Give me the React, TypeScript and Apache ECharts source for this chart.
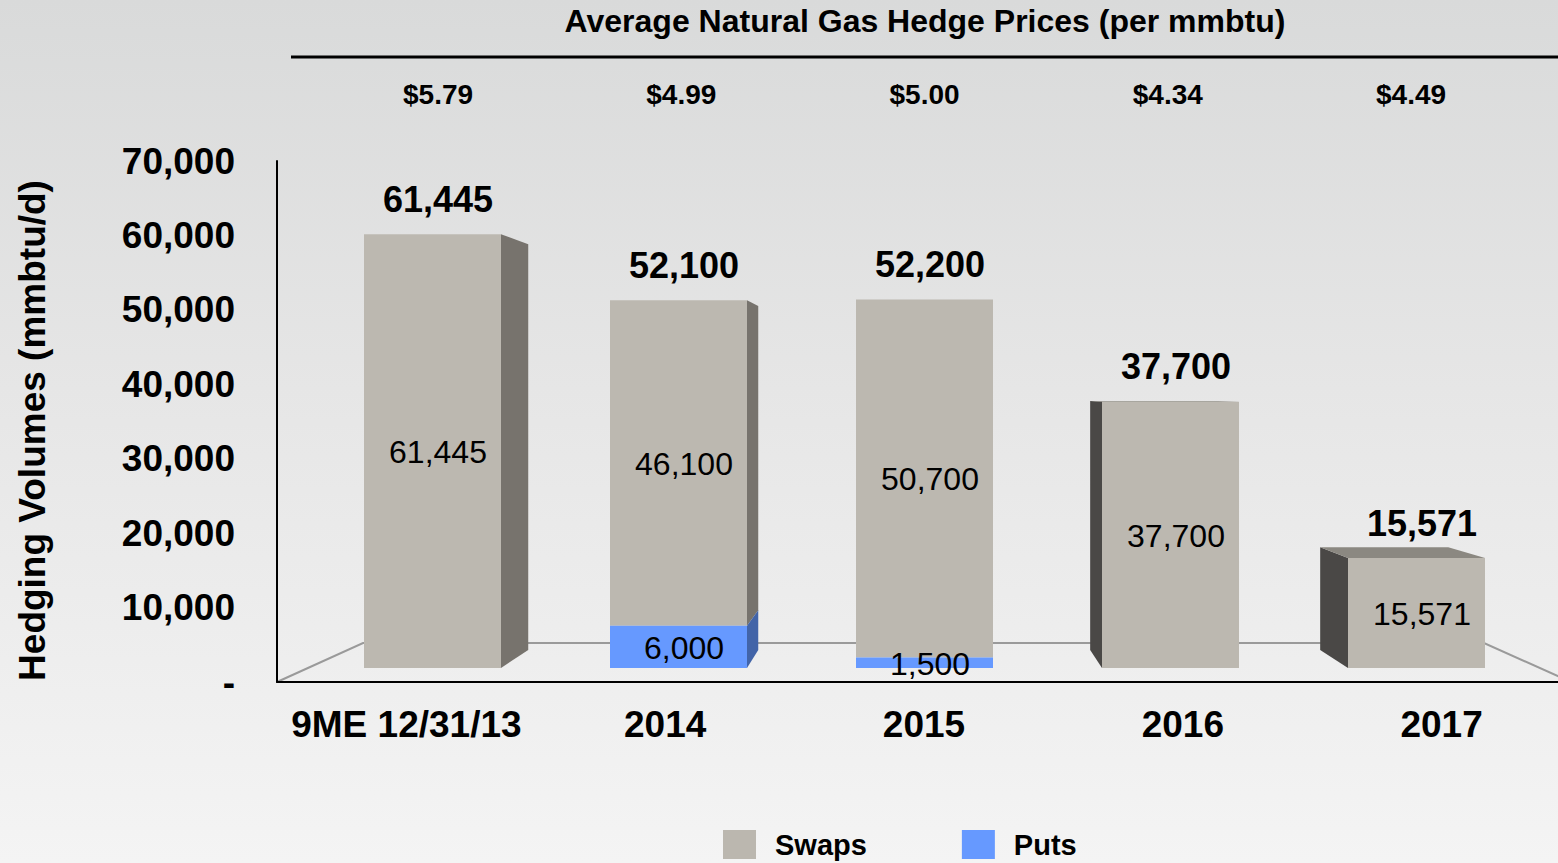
import React, { useEffect, useRef } from "react";
import * as echarts from "echarts";

const categories = ["9ME 12/31/13", "2014", "2015", "2016", "2017"];
const swaps = [61445, 46100, 50700, 37700, 15571];
const puts = [0, 6000, 1500, 0, 0];
const prices = ["$5.79", "$4.99", "$5.00", "$4.34", "$4.49"];
const yTickLabels = ["-", "10,000", "20,000", "30,000", "40,000", "50,000", "60,000", "70,000"];
const seriesNames = ["Swaps", "Puts"];
const titleText = "Average Natural Gas Hedge Prices (per mmbtu)";
const yAxisName = "Hedging Volumes (mmbtu/d)";

const FONT = '"Liberation Sans", Arial, Helvetica, sans-serif';
const fmt = (v: number) => v.toLocaleString("en-US");

// perspective settings (styling)
const VP = [920, 390];
const DEPTH = 0.935;
const BAR_W = 137;
const LABEL_DX = 5.5;

const makeRender = (front: string, sideR: string, sideL: string, topC: string) =>
  (params: any, api: any) => {
    const i = api.value(0);
    const startV = api.value(1);
    const endV = api.value(2);
    const labelV = api.value(3);
    const isTop = api.value(4);
    const totalV = api.value(5);
    const pB = api.coord([i, startV]);
    const pT = api.coord([i, endV]);
    const cx = pB[0];
    const x0 = cx - BAR_W / 2;
    const x1 = cx + BAR_W / 2;
    const yT = pT[1];
    const yB = pB[1];
    const bx = (x: number) => VP[0] + DEPTH * (x - VP[0]);
    const by = (y: number) => VP[1] + DEPTH * (y - VP[1]);
    const children: any[] = [];
    if (x1 < VP[0]) {
      children.push({
        type: "polygon",
        shape: { points: [[x1, yT], [bx(x1), by(yT)], [bx(x1), by(yB)], [x1, yB]] },
        style: { fill: sideR },
      });
    } else if (x0 > VP[0]) {
      children.push({
        type: "polygon",
        shape: { points: [[x0, yT], [bx(x0), by(yT)], [bx(x0), by(yB)], [x0, yB]] },
        style: { fill: sideL },
      });
    }
    if (isTop && yT > VP[1]) {
      children.push({
        type: "polygon",
        shape: { points: [[x0, yT], [x1, yT], [bx(x1), by(yT)], [bx(x0), by(yT)]] },
        style: { fill: topC },
      });
    }
    children.push({
      type: "rect",
      shape: { x: x0, y: yT, width: BAR_W, height: yB - yT },
      style: { fill: front },
    });
    children.push({
      type: "text",
      x: cx + LABEL_DX,
      y: (yT + yB) / 2 + 1,
      style: {
        text: fmt(labelV),
        fill: "#000",
        font: `32px ${FONT}`,
        align: "center",
        verticalAlign: "middle",
      },
    });
    if (isTop) {
      children.push({
        type: "text",
        x: cx + LABEL_DX,
        y: yT - 35,
        style: {
          text: fmt(totalV),
          fill: "#000",
          font: `bold 36px ${FONT}`,
          align: "center",
          verticalAlign: "middle",
        },
      });
    }
    return { type: "group", children };
  };

export default function App() {
  const ref = useRef<HTMLDivElement>(null);
  useEffect(() => {
    if (!ref.current) return;
    const chart = echarts.init(ref.current, null, { renderer: "svg" });
    const swapsData = categories.map((_, i) => [i, puts[i], puts[i] + swaps[i], swaps[i], 1, puts[i] + swaps[i]]);
    const putsData = categories
      .map((_, i) => [i, 0, puts[i], puts[i], 0, puts[i] + swaps[i]])
      .filter((d) => d[3] > 0);
    chart.setOption({
      animation: false,
      color: ["#bbb7af", "#6699ff"],
      title: {
        text: titleText,
        left: 925,
        top: 5,
        padding: 0,
        textAlign: "center",
        textStyle: { fontFamily: FONT, fontSize: 32, fontWeight: "bold", color: "#000" },
      },
      legend: {
        data: seriesNames,
        left: 723,
        top: 830,
        padding: 0,
        icon: "rect",
        itemWidth: 33,
        itemHeight: 29,
        itemGap: 95,
        textStyle: { fontFamily: FONT, fontSize: 29, fontWeight: "bold", color: "#000", padding: [0, 0, 0, 14] },
      },
      grid: [
        { left: 277, top: 161, width: 1294, height: 521, outerBoundsMode: "none", containLabel: false },
        { left: 309.5, top: 173.8, width: 1230, height: 494.2, outerBoundsMode: "none", containLabel: false },
        { left: 316.4, top: 120, width: 1216.25, height: 10, outerBoundsMode: "none", containLabel: false },
      ],
      xAxis: [
        {
          type: "category",
          gridIndex: 0,
          data: categories,
          axisLine: { show: true, lineStyle: { color: "#000", width: 2 } },
          axisTick: { show: false },
          axisLabel: { fontFamily: FONT, fontSize: 37, fontWeight: "bold", color: "#000", margin: 24, interval: 0 },
          splitLine: { show: false },
        },
        { type: "category", gridIndex: 1, data: categories, show: false },
        {
          type: "category",
          gridIndex: 2,
          data: prices,
          position: "top",
          axisLine: { show: false },
          axisTick: { show: false },
          axisLabel: { fontFamily: FONT, fontSize: 28, fontWeight: "bold", color: "#000", margin: 12, interval: 0 },
        },
      ],
      yAxis: [
        {
          type: "value",
          gridIndex: 0,
          min: 0,
          max: 70000,
          interval: 10000,
          axisLine: { show: true, lineStyle: { color: "#000", width: 2 } },
          axisTick: { show: false },
          splitLine: { show: false },
          axisLabel: {
            fontFamily: FONT,
            fontSize: 37,
            fontWeight: "bold",
            color: "#000",
            margin: 42,
            formatter: (v: number) => yTickLabels[Math.round(v / 10000)],
          },
          name: yAxisName,
          nameLocation: "middle",
          nameRotate: 90,
          nameGap: 226,
          nameTextStyle: { fontFamily: FONT, fontSize: 37, fontWeight: "bold", color: "#000", padding: [0, 18, 0, 0] },
        },
        { type: "value", gridIndex: 1, min: 0, max: 70000, show: false },
        { type: "value", gridIndex: 2, show: false },
      ],
      graphic: [
        {
          type: "line",
          shape: { x1: 291, y1: 57, x2: 1558, y2: 57 },
          style: { stroke: "#000", lineWidth: 3 },
        },
        {
          type: "polyline",
          z: 0,
          shape: { points: [[277, 682], [363, 643], [1484, 643], [1571, 682]] },
          style: { stroke: "#9a9a9a", lineWidth: 2, fill: null },
        },
      ],
      series: [
        {
          name: "Swaps",
          type: "custom",
          xAxisIndex: 1,
          yAxisIndex: 1,
          itemStyle: { color: "#bbb7af" },
          encode: { x: 0, y: [1, 2] },
          renderItem: makeRender("#bcb8b0", "#77736d", "#4a4846", "#8b8881"),
          data: swapsData,
          z: 5,
        },
        {
          name: "Puts",
          type: "custom",
          xAxisIndex: 1,
          yAxisIndex: 1,
          itemStyle: { color: "#6699ff" },
          encode: { x: 0, y: [1, 2] },
          renderItem: makeRender("#6699ff", "#4264a8", "#4264a8", "#4f7fd9"),
          data: putsData,
          z: 6,
        },
      ],
    });
    return () => chart.dispose();
  }, []);
  return (
    <div
      style={{
        position: "fixed",
        left: 0,
        top: 0,
        width: 1558,
        height: 863,
        background: "linear-gradient(to bottom, #d9dada 0%, #e6e6e6 45%, #f4f4f4 100%)",
      }}
    >
      <div ref={ref} style={{ width: 1558, height: 863 }} />
    </div>
  );
}
